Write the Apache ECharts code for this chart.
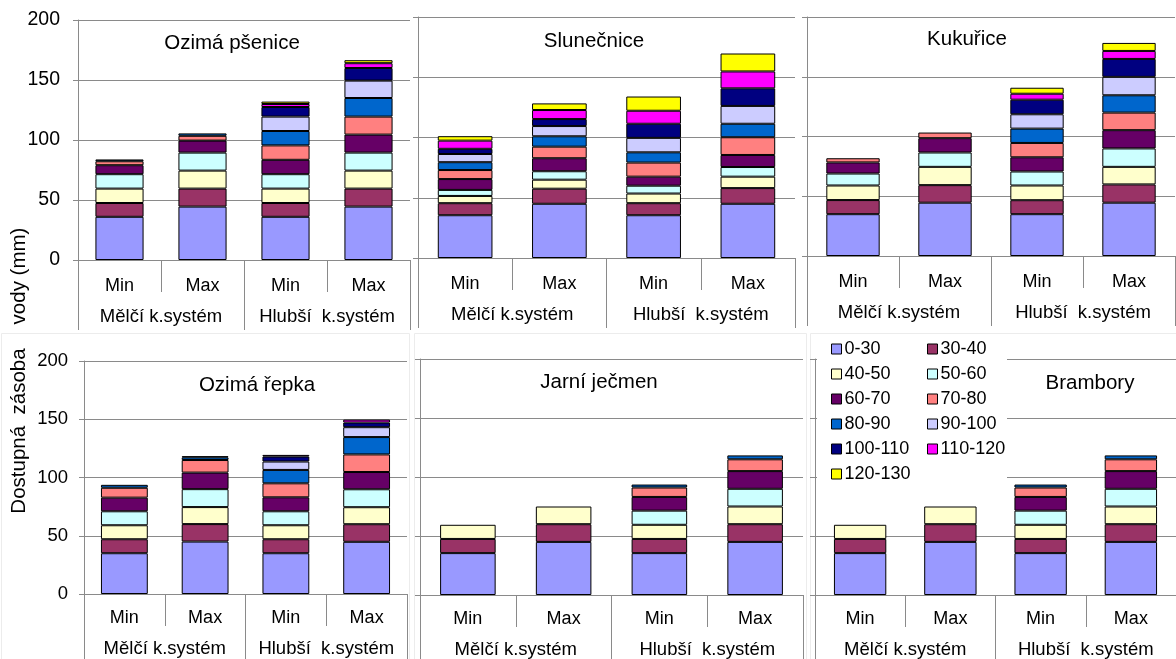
<!DOCTYPE html>
<html>
<head>
<meta charset="utf-8">
<script src="https://cdn.jsdelivr.net/npm/echarts@6/dist/echarts.min.js"></script>
<style>
html,body{margin:0;padding:0;background:#fff;}
#chart{width:1176px;height:659px;}
</style>
</head>
<body>
<div id="chart"></div>
<script>
// ---- DATA ----
const layerNames = ['0-30','30-40','40-50','50-60','60-70','70-80','80-90','90-100','100-110','110-120','120-130'];
const levelLabels = ['Min','Max','Min','Max'];
const groupLabels = ['Mělčí k.systém','Hlubší  k.systém'];
const cropTitles = ['Ozimá pšenice','Slunečnice','Kukuřice','Ozimá řepka','Jarní ječmen','Brambory'];
const yTickMin = 0, yTickMax = 200, yTickStep = 50;
const yAxisTitleTop = 'vody (mm)';
const yAxisTitleBottom = 'Dostupná  zásoba';

// rows = soil layers (0-30 ... 120-130), columns = Min/Max Mělčí, Min/Max Hlubší
const ozimaPsenice = [
  [36, 44.5, 36, 44.5],
  [11.5, 15, 11.5, 15],
  [12, 15, 12, 15],
  [12, 15, 12, 15],
  [7.5, 10, 12, 15],
  [3.3, 4, 12, 15],
  [1.5, 2, 12, 15.5],
  [0, 0, 12, 14.5],
  [0, 0, 8, 10.5],
  [0, 0, 2.5, 4],
  [0, 0, 2, 2.5]
];
const slunecnice = [
  [35.5, 45, 35.5, 45],
  [10, 12.5, 10, 13],
  [6, 7.5, 8, 9.5],
  [5, 7, 6.5, 8],
  [9, 10.8, 7.5, 10],
  [7.5, 9.6, 11.7, 14.7],
  [6.5, 8.6, 8.5, 11.2],
  [6.8, 8.5, 12, 14.8],
  [4.3, 5.8, 11.7, 14.6],
  [6.8, 7.5, 10.8, 14],
  [3.7, 5.5, 11.8, 14.9]
];
const kukurice = [
  [35, 44.6, 35, 44.6],
  [11.8, 14.7, 11.7, 15.3],
  [12.2, 15.3, 12.3, 14.7],
  [10, 12, 11.7, 15.4],
  [9.3, 12, 11.9, 15.3],
  [3.5, 4.7, 12, 14.7],
  [0, 0, 12, 14.5],
  [0, 0, 12, 15.4],
  [0, 0, 12.2, 15],
  [0, 0, 5, 6.7],
  [0, 0, 5, 6.7]
];
const ozimaRepka = [
  [35, 45, 35, 44.8],
  [12, 15, 12, 15.1],
  [12, 14.6, 12, 14.6],
  [12, 15.4, 12, 15.4],
  [11.7, 14.2, 12, 14.8],
  [8.5, 10.8, 12, 15.1],
  [2.5, 2.3, 11.5, 14.9],
  [0, 1, 7.2, 8.5],
  [0, 0, 4.3, 4],
  [0, 0, 1.4, 2.5],
  [0, 0, 0, 0]
];
const jarniJecmen = [
  [35.5, 45, 35.5, 45],
  [12, 15, 12, 15],
  [12, 15, 12, 15],
  [0, 0, 12, 15],
  [0, 0, 11.6, 15],
  [0, 0, 8, 10],
  [0, 0, 2.5, 3.3],
  [0, 0, 0, 0],
  [0, 0, 0, 0],
  [0, 0, 0, 0],
  [0, 0, 0, 0]
];
const brambory = [
  [35.5, 45, 35.5, 45],
  [12, 15, 12, 15],
  [12, 15, 12, 15],
  [0, 0, 12, 15],
  [0, 0, 11.6, 15],
  [0, 0, 8, 10],
  [0, 0, 2.5, 3.3],
  [0, 0, 0, 0],
  [0, 0, 0, 0],
  [0, 0, 0, 0],
  [0, 0, 0, 0]
];

// ---- STYLE / LAYOUT ----
const layerColors = ['#9999FF','#993366','#FFFFCC','#CCFFFF','#660066','#FF8080','#0066CC','#CCCCFF','#000080','#FF00FF','#FFFF00'];
const FONT = '"Liberation Sans", Arial, sans-serif';
const GRAY = '#8a8a8a';
const panelData = [ozimaPsenice, slunecnice, kukurice, ozimaRepka, jarniJecmen, brambory];
const layout = [
  {left:78,  top:20,  width:332, height:240, showY:true,  yFont:19.5, yMargin:18, tx:232,  ty:45, lvlMargin:17, grpMargin:47},
  {left:418, top:17,  width:377, height:241, showY:false, yFont:19.5, yMargin:18, tx:594,  ty:43, lvlMargin:17, grpMargin:47},
  {left:807, top:17,  width:368, height:239, showY:false, yFont:19.5, yMargin:18, tx:967,  ty:41, lvlMargin:17, grpMargin:47},
  {left:84,  top:361, width:323, height:233, showY:true,  yFont:18.5, yMargin:16, tx:257,  ty:387, lvlMargin:15, grpMargin:45},
  {left:420, top:359, width:383, height:237, showY:false, yFont:18.5, yMargin:16, tx:599,  ty:384, lvlMargin:15, grpMargin:45},
  {left:815, top:359, width:365, height:236, showY:false, yFont:18.5, yMargin:16, tx:1090, ty:385, lvlMargin:15, grpMargin:45}
];

const chart = echarts.init(document.getElementById('chart'), null, {renderer:'canvas'});

const titles = layout.map((p, i) => ({
  text: cropTitles[i], left: p.tx, top: p.ty - 12, textAlign: 'center', padding: 0,
  textStyle: {fontFamily: FONT, fontSize: 20.5, fontWeight: 'normal', color: '#000'}
}));
const grids = layout.map(p => ({left: p.left, top: p.top, width: p.width, height: p.height}));
const xAxes = [];
layout.forEach((p, i) => {
  xAxes.push({
    type: 'category', gridIndex: i, position: 'bottom', data: levelLabels,
    axisLine: {show: true, lineStyle: {color: GRAY, width: 1}},
    axisTick: {show: true, length: 32, interval: 0, lineStyle: {color: GRAY}},
    axisLabel: {interval: 0, margin: p.lvlMargin, fontSize: 18, color: '#000', fontFamily: FONT},
    splitLine: {show: false}
  });
  xAxes.push({
    type: 'category', gridIndex: i, position: 'bottom', data: groupLabels,
    axisLine: {show: false},
    axisTick: {show: true, length: 70, interval: 0, lineStyle: {color: GRAY}},
    axisLabel: {interval: 0, margin: p.grpMargin, fontSize: 18.5, color: '#000', fontFamily: FONT},
    splitLine: {show: false}
  });
});
const yAxes = layout.map((p, i) => ({
  type: 'value', gridIndex: i, min: yTickMin, max: yTickMax, interval: yTickStep,
  axisLine: {show: true, lineStyle: {color: GRAY, width: 1}},
  axisTick: {show: true, length: 5, lineStyle: {color: GRAY}},
  axisLabel: {show: p.showY, margin: p.yMargin, fontSize: p.yFont, color: '#000', fontFamily: FONT},
  splitLine: {show: true, lineStyle: {color: GRAY, width: 1}}
}));
const series = [];
panelData.forEach((data, i) => {
  data.forEach((row, k) => {
    series.push({
      name: layerNames[k], type: 'bar', stack: 'panel' + i,
      xAxisIndex: i * 2, yAxisIndex: i, barWidth: '58%',
      data: row.map(v => v === 0 ? null : v),
      itemStyle: {color: layerColors[k], borderColor: '#000', borderWidth: 1},
      emphasis: {disabled: true}
    });
  });
});
const legendBase = {
  orient: 'vertical', top: 335, itemWidth: 10, itemHeight: 10, itemGap: 7, icon: 'rect',
  itemStyle: {borderColor: '#000', borderWidth: 1},
  textStyle: {fontSize: 18, lineHeight: 18, color: '#000', fontFamily: FONT, padding: [0, 0, 0, -2]},
  selectedMode: false, z: 10
};
const legends = [
  Object.assign({}, legendBase, {left: 826, data: layerNames.filter((_, i) => i % 2 === 0)}),
  Object.assign({}, legendBase, {left: 922, data: layerNames.filter((_, i) => i % 2 === 1)})
];
const graphics = [
  {type: 'rect', z: 3, shape: {x: 817, y: 335, width: 190, height: 149}, style: {fill: '#fff'}},
  {type: 'rect', z: 0, shape: {x: 1.5, y: 333.5, width: 408, height: 330}, style: {fill: 'none', stroke: '#ececec', lineWidth: 1}},
  {type: 'rect', z: 0, shape: {x: 414.5, y: 333.5, width: 392, height: 330}, style: {fill: 'none', stroke: '#ececec', lineWidth: 1}},
  {type: 'rect', z: 0, shape: {x: 810.5, y: 333.5, width: 370, height: 330}, style: {fill: 'none', stroke: '#ececec', lineWidth: 1}},
  {type: 'text', x: 19, y: 276, rotation: Math.PI / 2,
   style: {text: yAxisTitleTop, font: '20.5px ' + FONT, fill: '#000', textAlign: 'center', textVerticalAlign: 'middle', align: 'center', verticalAlign: 'middle'}},
  {type: 'text', x: 19, y: 431, rotation: Math.PI / 2,
   style: {text: yAxisTitleBottom, font: '20.5px ' + FONT, fill: '#000', textAlign: 'center', textVerticalAlign: 'middle', align: 'center', verticalAlign: 'middle'}}
];

chart.setOption({
  animation: false,
  backgroundColor: '#fff',
  textStyle: {fontFamily: FONT},
  title: titles,
  grid: grids,
  xAxis: xAxes,
  yAxis: yAxes,
  legend: legends,
  graphic: graphics,
  series: series
});
</script>
</body>
</html>
